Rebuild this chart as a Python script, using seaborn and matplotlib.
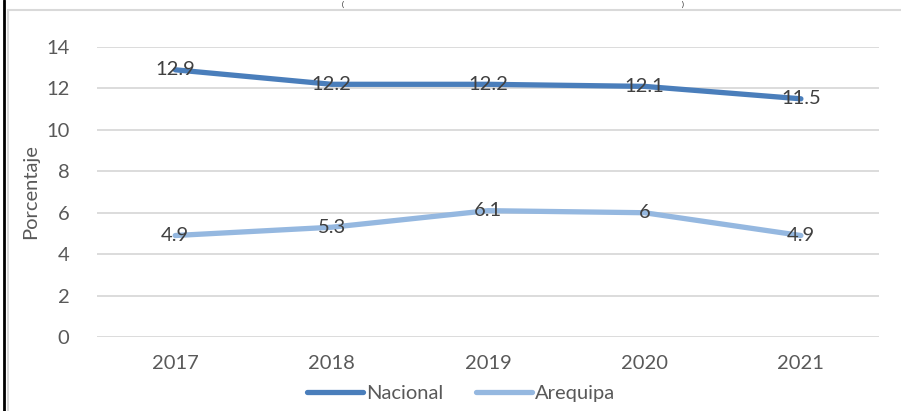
import matplotlib
matplotlib.use("Agg")
import matplotlib.pyplot as plt
import seaborn as sns
import pandas as pd
from matplotlib.patches import Rectangle
from matplotlib.lines import Line2D

years = ["2017", "2018", "2019", "2020", "2021"]
nacional = [12.9, 12.2, 12.2, 12.1, 11.5]
arequipa = [4.9, 5.3, 6.1, 6, 4.9]
series_names = ["Nacional", "Arequipa"]
y_ticks = [0, 2, 4, 6, 8, 10, 12, 14]

colors = {"Nacional": "#4A7EBB", "Arequipa": "#95B8E0"}
text_color = "#595959"

df = pd.DataFrame({
    "year": years * 2,
    "value": nacional + arequipa,
    "serie": ["Nacional"] * len(years) + ["Arequipa"] * len(years),
})

sns.set_theme(style="white")
plt.rcParams['font.family'] = ['Lato', 'DejaVu Sans']

fig = plt.figure(figsize=(9.01, 4.11), dpi=100)
ax = fig.add_axes([0.1077, 0.18, 0.868, 0.7056])

# frame around the chart, like the exported Excel figure
fig.patches.append(Rectangle((8 / 901, -0.1), 1.0, 1 - 10 / 411 + 0.1,
                             transform=fig.transFigure, fill=False,
                             edgecolor="#D9D9D9", linewidth=1.5))
fig.lines.append(Line2D([4 / 901, 4 / 901], [0, 1], transform=fig.transFigure,
                        color="black", linewidth=2))

sns.lineplot(data=df, x="year", y="value", hue="serie", palette=colors,
             linewidth=3.8, ax=ax, legend=False, sort=False)
for ln in ax.get_lines():
    ln.set_solid_capstyle("round")

# data labels centered on the points
for name, vals in [("Nacional", nacional), ("Arequipa", arequipa)]:
    for i, v in enumerate(vals):
        ax.text(i, v, f"{v:g}", ha="center", va="center", fontsize=14.5,
                color="#404040", zorder=5)

ax.set_xlim(-0.5, len(years) - 0.5)
ax.set_ylim(0, 14)
ax.set_yticks(y_ticks)
ax.grid(axis="y", color="#D9D9D9", linewidth=1.3)
ax.set_axisbelow(True)
for s in ax.spines.values():
    s.set_visible(False)
ax.tick_params(axis="both", length=0, labelsize=14.5, labelcolor=text_color)
ax.tick_params(axis="x", pad=13)
ax.tick_params(axis="y", pad=20)
ax.set_xlabel("")
ax.set_ylabel("Porcentaje", fontsize=14.5, color=text_color, labelpad=5)

handles = [Line2D([0], [0], color=colors[n], linewidth=3.8, solid_capstyle="round")
           for n in series_names]
fig.legend(handles, series_names, loc="center", bbox_to_anchor=(0.512, 0.043),
           ncol=2, frameon=False, fontsize=14.5, labelcolor=text_color,
           handlelength=2.8, handletextpad=0.15, columnspacing=1.6)

# remains of the cut-off title
fig.text(343 / 901, 1 - 1 / 411, "(", ha="center", va="top", fontsize=5, color="black")
fig.text(683 / 901, 1 - 1 / 411, ")", ha="center", va="top", fontsize=5, color="black")

fig.savefig("out.png", dpi=100)
